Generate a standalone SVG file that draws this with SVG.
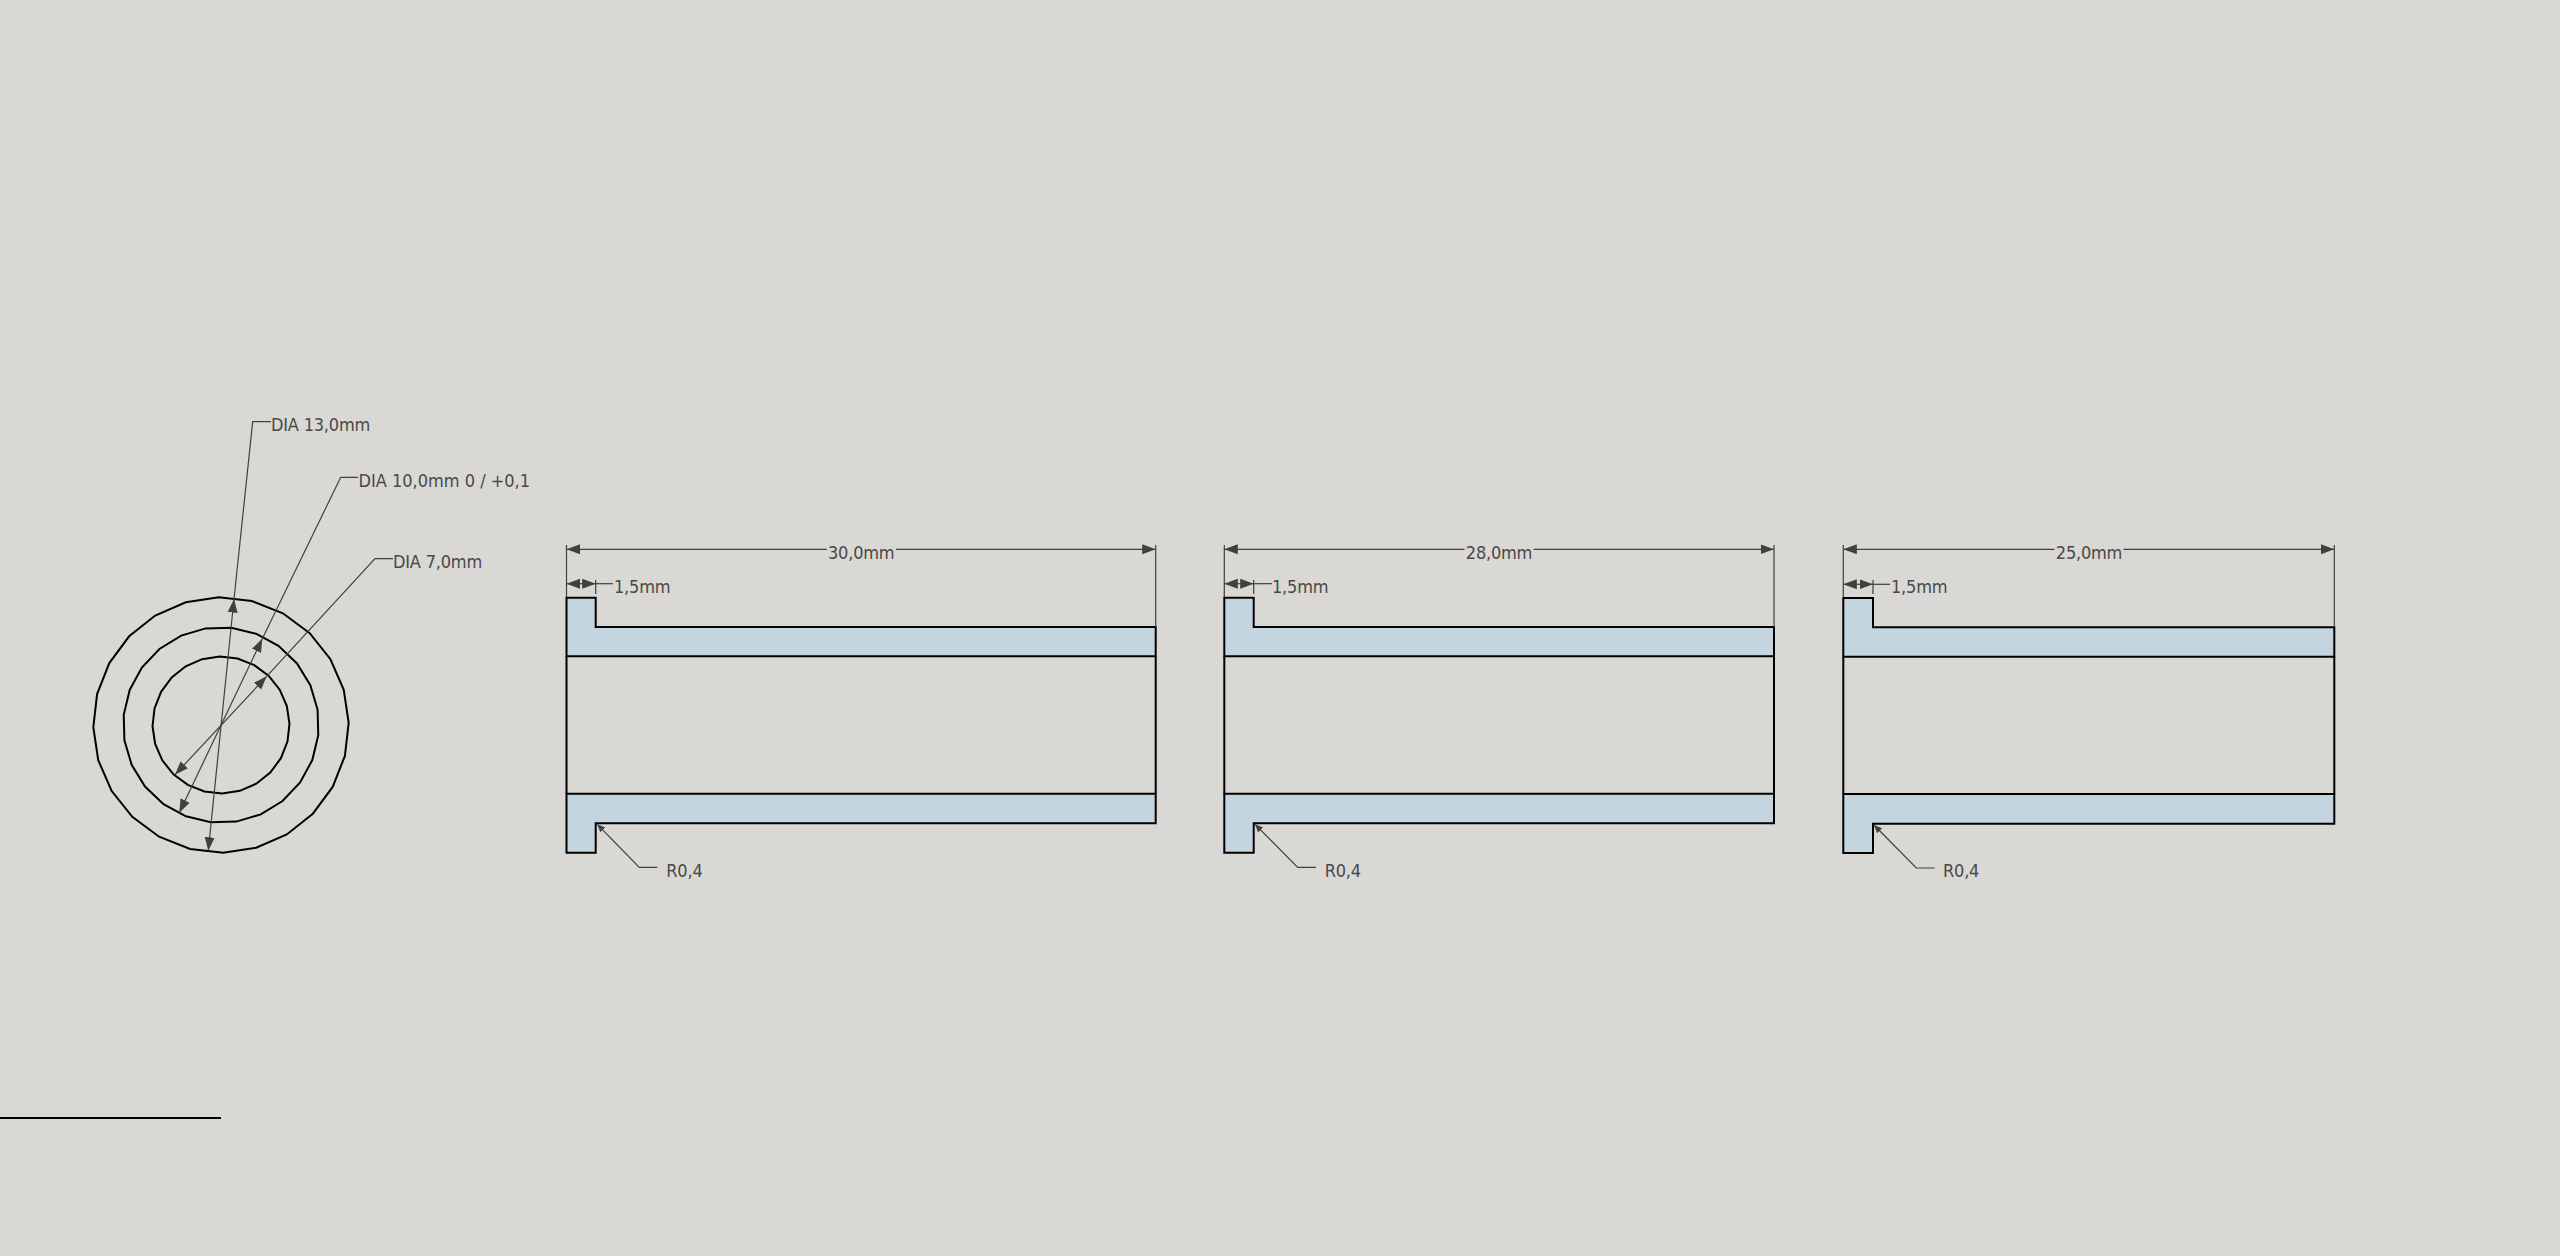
<svg xmlns="http://www.w3.org/2000/svg" width="2560" height="1256" viewBox="0 0 2560 1256">
<style>
.bg{fill:#d9d8d4}
.part{fill:#c5d5e0;stroke:#000;stroke-width:2;stroke-linejoin:miter}
.edge{fill:none;stroke:#000;stroke-width:2}
.dim{fill:none;stroke:#404040;stroke-width:1.2}
.arr{marker-start:url(#ah);marker-end:url(#ah)}
.arrs{marker-start:url(#ahs)}
.ring{fill:none;stroke:#000;stroke-width:2}
text{font-family:"DejaVu Sans Condensed","DejaVu Sans",sans-serif;font-size:18px;letter-spacing:-.2px;fill:#484848}
</style>
<defs>
<marker id="ah" markerUnits="userSpaceOnUse" markerWidth="15" markerHeight="11" viewBox="0 -5.5 15 11" refX="13.5" refY="0" orient="auto-start-reverse"><path d="M13.5,0L0,-5L0,5Z" fill="#404040"/></marker>
<marker id="ahs" markerUnits="userSpaceOnUse" markerWidth="9" markerHeight="9" viewBox="0 -4.5 9 9" refX="8" refY="0" orient="auto-start-reverse"><path d="M8,0L0,-3.5L0,3.5Z" fill="#404040"/></marker>
<polygon id="circ" vector-effect="non-scaling-stroke" points="100,0 96.59,25.88 86.6,50 70.71,70.71 50,86.6 25.88,96.59 0,100 -25.88,96.59 -50,86.6 -70.71,70.71 -86.6,50 -96.59,25.88 -100,0 -96.59,-25.88 -86.6,-50 -70.71,-70.71 -50,-86.6 -25.88,-96.59 0,-100 25.88,-96.59 50,-86.6 70.71,-70.71 86.6,-50 96.59,-25.88"/>
</defs>
<rect class="bg" width="2560" height="1256"/>
<g id="end-view">
<use href="#circ" class="ring" transform="translate(221 725) rotate(-1) scale(1.277)"/>
<use href="#circ" class="ring" transform="translate(221 725) rotate(6) scale(.978)"/>
<use href="#circ" class="ring" transform="translate(221 725) rotate(-1) scale(.685)"/>
</g>
<g id="section-30">
<path class="part" d="M566.5,597.7H595.7V627H1155.7V656.3H566.5Z"/>
<path class="part" d="M566.5,793.7H1155.7V823.3H595.7V852.7H566.5Z"/>
<path class="edge" d="M566.5,656.3V793.7M1155.7,656.3V793.7"/>
</g>
<g id="section-28">
<path class="part" d="M1224.3,597.7H1253.7V627H1774V656.3H1224.3Z"/>
<path class="part" d="M1224.3,793.7H1774V823.3H1253.7V852.7H1224.3Z"/>
<path class="edge" d="M1224.3,656.3V793.7M1774,656.3V793.7"/>
</g>
<g id="section-25">
<path class="part" d="M1843.3,598H1873V627.3H2334.3V656.7H1843.3Z"/>
<path class="part" d="M1843.3,794H2334.3V823.7H1873V853H1843.3Z"/>
<path class="edge" d="M1843.3,656.7V794M2334.3,656.7V794"/>
</g>
<g id="connectors">
<line class="dim arr" x1="208.3" y1="850.7" x2="234" y2="599"/>
<path class="dim" d="M234,599L252.7,421.7H271"/>
<line class="dim arr" x1="179.3" y1="812.7" x2="262.3" y2="638.7"/>
<path class="dim" d="M262.3,638.7L340.7,477.3H358"/>
<line class="dim arr" x1="175" y1="774.7" x2="266.7" y2="676.3"/>
<path class="dim" d="M266.7,676.3L375,558.7H393"/>

<path class="dim" d="M566.5,545V597M1155.7,545V627M595.7,580V594"/>
<path class="dim" style="marker-start:url(#ah)" d="M566.5,549.3H826.7"/>
<path class="dim" style="marker-end:url(#ah)" d="M896,549.3H1155.7"/>
<line class="dim arr" x1="566.5" y1="583.7" x2="595.7" y2="583.7"/>
<path class="dim" d="M595.7,583.7H613"/>
<path class="dim arrs" d="M597.3,824.3L639.3,867.3H657.3"/>

<path class="dim" d="M1224.3,545V597M1774,545V627M1253.7,580V594"/>
<path class="dim" style="marker-start:url(#ah)" d="M1224.3,549.3H1464.5"/>
<path class="dim" style="marker-end:url(#ah)" d="M1533.5,549.3H1774"/>
<line class="dim arr" x1="1224.3" y1="583.7" x2="1253.7" y2="583.7"/>
<path class="dim" d="M1253.7,583.7H1272"/>
<path class="dim arrs" d="M1255,824.3L1297.7,867.3H1316"/>

<path class="dim" d="M1843.3,545V597M2334.3,545V627M1873,580V594"/>
<path class="dim" style="marker-start:url(#ah)" d="M1843.3,549.3H2054.5"/>
<path class="dim" style="marker-end:url(#ah)" d="M2123.5,549.3H2334.3"/>
<line class="dim arr" x1="1843.3" y1="584.3" x2="1873" y2="584.3"/>
<path class="dim" d="M1873,584.3H1890"/>
<path class="dim arrs" d="M1874,825L1916.3,868H1934.7"/>
</g>
<line id="scale-line" x1="0" y1="1118" x2="221" y2="1118" stroke="#000" stroke-width="2"/>
<g id="labels">
<text x="271" y="431">DIA 13,0mm</text>
<text x="358.5" y="486.7" style="letter-spacing:0">DIA 10,0mm 0 / +0,1</text>
<text x="393" y="567.7">DIA 7,0mm</text>
<text x="828" y="559">30,0mm</text>
<text x="1465.8" y="559">28,0mm</text>
<text x="2055.8" y="559">25,0mm</text>
<text x="614" y="593">1,5mm</text>
<text x="1272" y="593">1,5mm</text>
<text x="1891" y="593">1,5mm</text>
<text x="666.3" y="876.7">R0,4</text>
<text x="1324.7" y="876.7">R0,4</text>
<text x="1943" y="877">R0,4</text>
</g>
</svg>
